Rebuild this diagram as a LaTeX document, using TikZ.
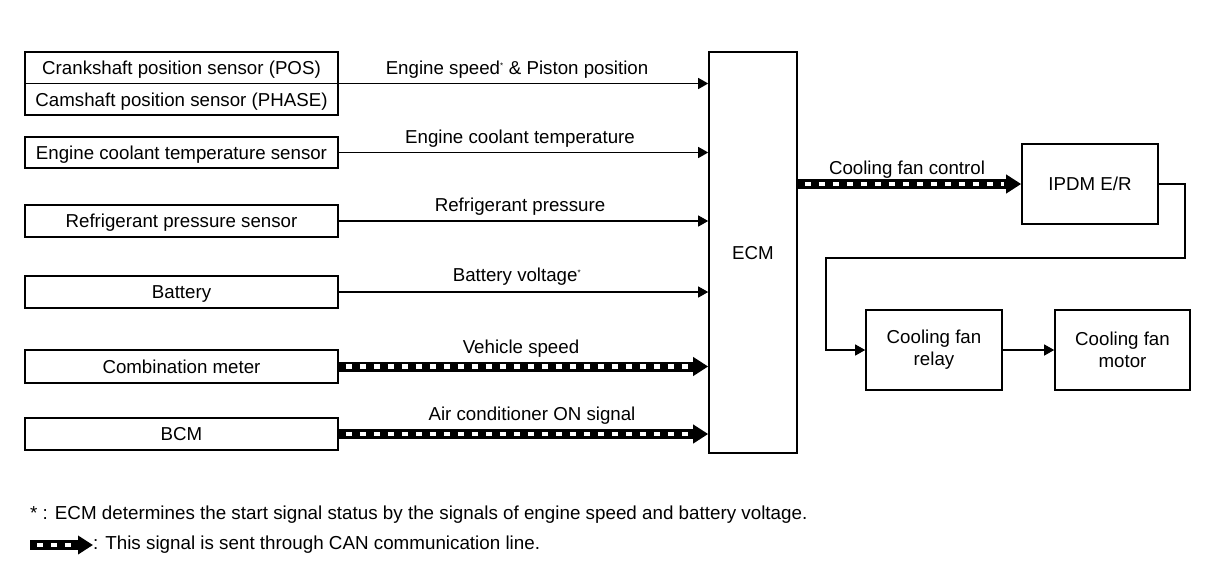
\documentclass[tikz,border=0pt]{standalone}
\usepackage{fontspec}
\setmainfont{Liberation Sans}
\usetikzlibrary{arrows.meta}
\begin{document}
\begin{tikzpicture}[x=1pt,y=-1pt,
  box/.style={draw, line width=1.6pt, inner sep=0pt, align=center, font=\fontsize{18.7}{22}\selectfont},
  one/.style={text height=13.4pt, text depth=0pt},
  lbl/.style={inner sep=0pt, font=\fontsize{18.7}{22}\selectfont},
  arr/.style={line width=1.2pt, -{Triangle[length=10pt,width=11pt]}},
  can/.style={line width=10pt, -{Triangle[length=15pt,width=18pt]},
    postaction={draw=white, line width=4.2pt, dash pattern=on 6pt off 8pt, dash phase=-4pt, -, shorten >=17pt, shorten <=3pt}},
  foot/.style={inner sep=0pt, anchor=west, font=\fontsize{18.8}{22}\selectfont}]
\useasboundingbox (0,0) rectangle (1216,582);
% left boxes
\node[box, minimum width=313pt, minimum height=63pt] (pos) at (181.5,83.5) {};
\node[lbl, one] (crank) at (181.5,68) {Crankshaft position sensor (POS)};
\node[lbl, one] (cam) at (181.5,99.5) {Camshaft position sensor (PHASE)};
\draw[line width=1.6pt] (pos.west) -- (pos.east);
\node[box, one, minimum width=313pt, minimum height=31pt] (ect) at (181.5,152.5) {Engine coolant temperature sensor};
\node[box, one, minimum width=313pt, minimum height=32pt] (ref) at (181.5,221) {Refrigerant pressure sensor};
\node[box, one, minimum width=313pt, minimum height=32pt] (bat) at (181.5,292) {Battery};
\node[box, one, minimum width=313pt, minimum height=33pt] (comb) at (181.5,366.5) {Combination meter};
\node[box, one, minimum width=313pt, minimum height=32pt] (bcm) at (181.5,434) {BCM};
% ECM
\node[box, one, minimum width=88pt, minimum height=401pt] (ecm) at (753,252.5) {ECM};
% right boxes
\node[box, one, minimum width=136pt, minimum height=80pt] (ipdm) at (1090,184) {IPDM E/R};
\node[box, minimum width=136pt, minimum height=80pt] (relay) at (934,350) {Cooling fan\\relay};
\node[box, minimum width=135pt, minimum height=80pt] (motor) at (1122.5,350) {Cooling fan\\motor};
% connectors
\draw[arr] (pos.east) -- (ecm.west |- pos.east);
\node[lbl] (l1) at (517,70) {Engine speed\textsuperscript{\fontsize{8}{8}\selectfont *} \& Piston position};
\draw[arr] (ect.east) -- (ecm.west |- ect.east);
\node[lbl] (l2) at (520,139) {Engine coolant temperature};
\draw[arr] (ref.east) -- (ecm.west |- ref.east);
\node[lbl] (l3) at (520,207) {Refrigerant pressure};
\draw[arr] (bat.east) -- (ecm.west |- bat.east);
\node[lbl] (l4) at (517,277) {Battery voltage\textsuperscript{\fontsize{8}{8}\selectfont *}};
\draw[can] (comb.east) -- (ecm.west |- comb.east);
\node[lbl] (l5) at (521,349) {Vehicle speed};
\draw[can] (bcm.east) -- (ecm.west |- bcm.east);
\node[lbl] (l6) at (532,416) {Air conditioner ON signal};
\draw[can] (ecm.east |- ipdm.west) -- (ipdm.west);
\node[lbl] (l7) at (907,170) {Cooling fan control};
\coordinate (bend1) at (1185,258);
\coordinate (bend2) at (826,258);
\draw[arr] (ipdm.east) -| (bend1) -- (bend2) |- (relay.west);
\draw[arr] (relay.east) -- (motor.west);
% footnotes
\node[foot] (f1) at (30,515) {* : ECM determines the start signal status by the signals of engine speed and battery voltage.};
\coordinate (lg1) at (30,545);
\coordinate (lg2) at (93,545);
\draw[can] (lg1) -- (lg2);
\node[foot] (f2) at (93,545) {: This signal is sent through CAN communication line.};
\end{tikzpicture}
\end{document}
